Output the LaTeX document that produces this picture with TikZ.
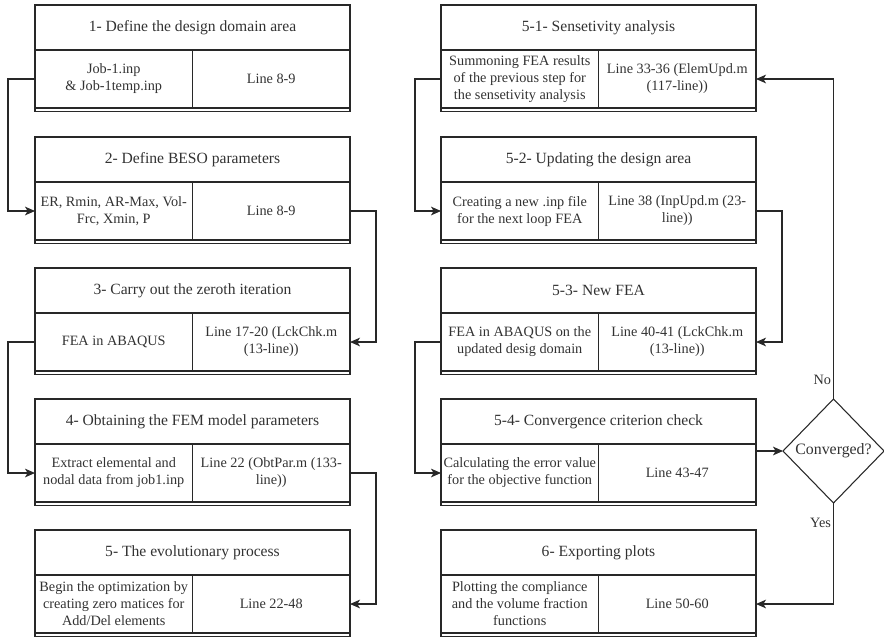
\documentclass[tikz,border=0pt]{standalone}
\usepackage{fontspec}
\setmainfont{Liberation Serif}
\usepackage{xcolor}
\usepackage{tikz}
\usetikzlibrary{arrows.meta,positioning,calc,shapes.geometric}
\definecolor{LineC}{RGB}{40,40,40}
\definecolor{TextC}{RGB}{50,50,50}
\tikzset{
  headcell/.style={rectangle,draw=LineC,line width=0.8pt,outer sep=0pt,inner sep=1pt,
                   minimum width=236.25pt,minimum height=33.75pt,text=TextC,
                   font=\fontsize{11.7}{14}\selectfont},
  bodycell/.style={rectangle,draw=LineC,line width=0.8pt,outer sep=0pt,inner sep=1pt,
                   minimum width=118.125pt,minimum height=43.5pt,text=TextC,align=center,
                   font=\fontsize{10.7}{12.75}\selectfont},
  rulec/.style={draw=LineC,line width=0.8pt},
  decide/.style={diamond,draw=LineC,line width=0.8pt,inner sep=1pt,outer sep=0pt,
                 minimum width=75.75pt,minimum height=78pt,text=TextC,
                 font=\fontsize{11.9}{14}\selectfont},
  flow/.style={-{Stealth[length=7.5pt,width=6.5pt,inset=2pt]},draw=LineC,line width=0.8pt},
  lbl/.style={text=TextC,inner sep=1.5pt,font=\fontsize{10.7}{12.75}\selectfont},
}
% one step: title row above, two cells below, double bottom rule
\newcommand{\flowstep}[6]{%
  \node[headcell,anchor=north west] (#1-h) at (#2,#3) {#4};
  \node[bodycell,anchor=north west] (#1-l) at (#1-h.south west) {#5};
  \node[bodycell,anchor=north west] (#1-r) at (#1-l.north east) {#6};
  \draw[rulec] (#1-l.south west) -- ++(0,3.5) -| (#1-r.south east);
}
\begin{document}
\begin{tikzpicture}[x=0.75pt,y=-0.75pt]
  \useasboundingbox (0,0) rectangle (884,636);

  % left column
  \flowstep{s1}{35}{5}{1- Define the design domain area}
    {Job-1.inp\\\& Job-1temp.inp}{Line 8-9}
  \flowstep{s2}{35}{137}{2- Define BESO parameters}
    {ER, Rmin, AR-Max, Vol-\\Frc, Xmin, P}{Line 8-9}
  \flowstep{s3}{35}{268}{3- Carry out the zeroth iteration}
    {FEA in ABAQUS}{Line 17-20 (LckChk.m\\(13-line))}
  \flowstep{s4}{35}{399}{4- Obtaining the FEM model parameters}
    {Extract elemental and\\nodal data from job1.inp}{Line 22 (ObtPar.m (133-\\line))}
  \flowstep{s5}{35}{530}{5- The evolutionary process}
    {Begin the optimization by\\creating zero matices for\\Add/Del elements}{Line 22-48}

  % right column
  \flowstep{s51}{441}{5}{5-1- Sensetivity analysis}
    {Summoning FEA results\\of the previous step for\\the sensetivity analysis}{Line 33-36 (ElemUpd.m\\(117-line))}
  \flowstep{s52}{441}{137}{5-2- Updating the design area}
    {Creating a new .inp file\\for the next loop FEA}{Line 38 (InpUpd.m (23-\\line))}
  \flowstep{s53}{441}{268}{5-3- New FEA}
    {FEA in ABAQUS on the\\updated desig domain}{Line 40-41 (LckChk.m\\(13-line))}
  \flowstep{s54}{441}{399}{5-4- Convergence criterion check}
    {Calculating the error value\\for the objective function}{Line 43-47}
  \flowstep{s6}{441}{530}{6- Exporting plots}
    {Plotting the compliance\\and the volume fraction\\functions}{Line 50-60}

  \node[decide] (conv) at (833.5,451) {Converged?};

  % connectors
  \draw[flow] (s1-l.west) -- ++(-27,0) |- (s2-l.west);
  \draw[flow] (s2-r.east) -- ++(26,0) |- (s3-r.east);
  \draw[flow] (s3-l.west) -- ++(-27,0) |- (s4-l.west);
  \draw[flow] (s4-r.east) -- ++(26,0) |- (s5-r.east);
  \draw[flow] (s51-l.west) -- ++(-26,0) |- (s52-l.west);
  \draw[flow] (s52-r.east) -- ++(26,0) |- (s53-r.east);
  \draw[flow] (s53-l.west) -- ++(-26,0) |- (s54-l.west);
  \draw[flow] (s54-r.east |- conv.west) -- (conv.west);
  \draw[flow] (conv.north) |- node[lbl,pos=0.03,left] (no) {No} (s51-r.east);
  \draw[flow] (conv.south) |- node[lbl,pos=0.1,left] (yes) {Yes} (s6-r.east);
\end{tikzpicture}
\end{document}
